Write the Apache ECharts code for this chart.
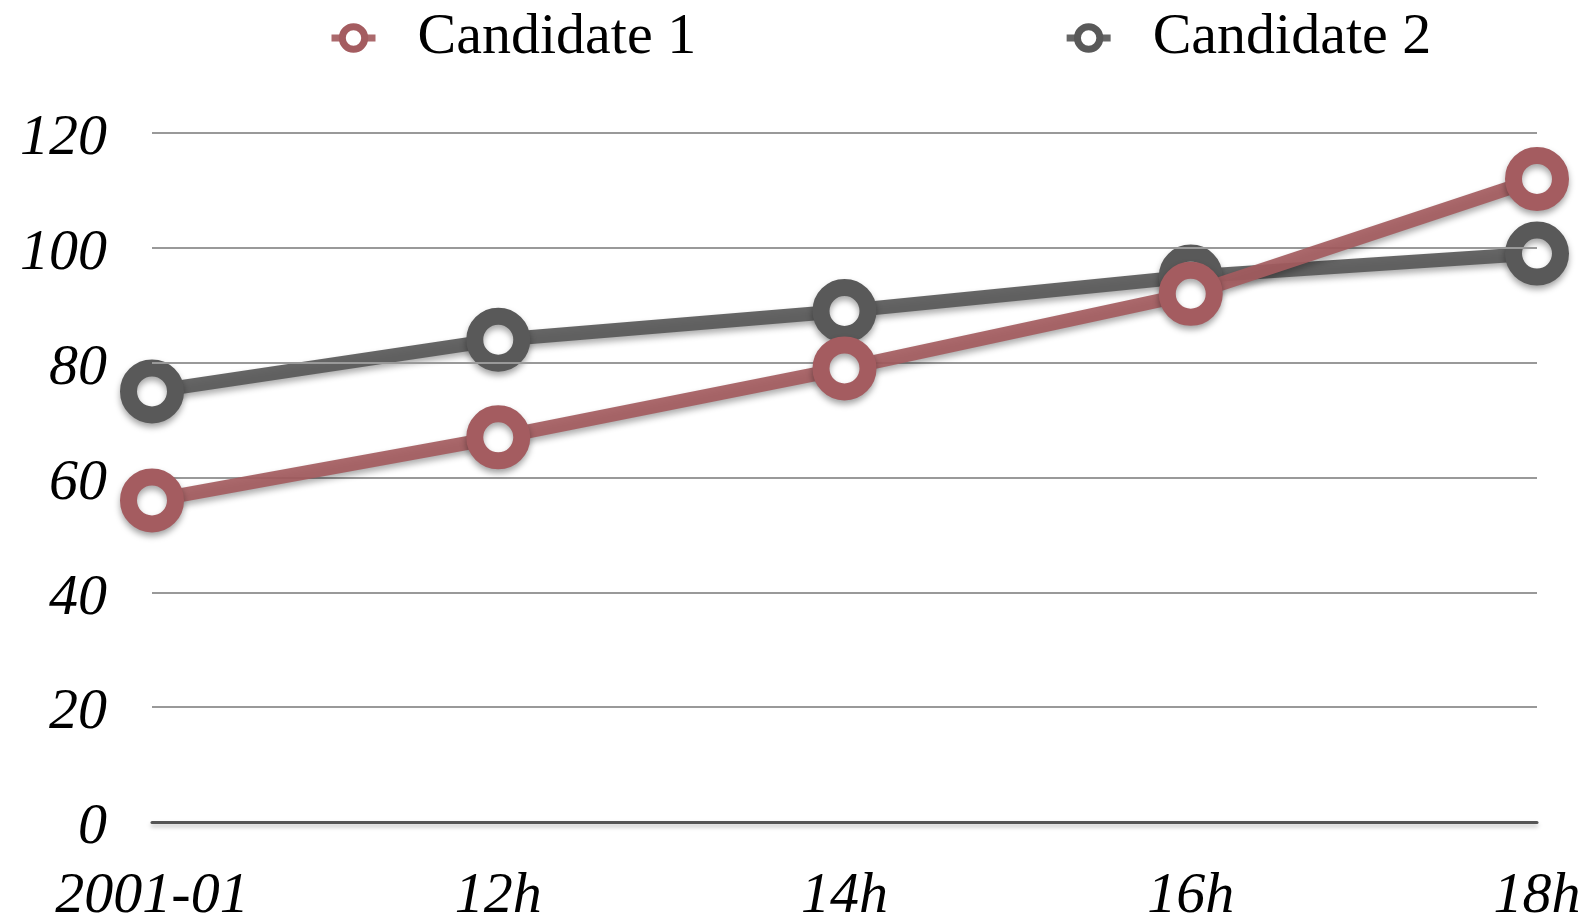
<!DOCTYPE html>
<html>
<head>
<meta charset="utf-8">
<title>Candidate 1 vs Candidate 2</title>
<script src="https://cdn.jsdelivr.net/npm/echarts@6/dist/echarts.min.js"></script>
<style>
  html, body { margin: 0; padding: 0; background: #ffffff; }
  #chart { width: 1591px; height: 916px; }
</style>
</head>
<body>
<div id="chart"></div>
<script>
// Time slots along the x axis
const categories = ['2001-01', '12h', '14h', '16h', '18h'];

// Series values
const candidate1 = [56, 67, 79, 92, 112];
const candidate2 = [75, 84, 89, 95, 99];

// Value axis range
const yMin = 0;
const yMax = 120;
const yStep = 20;

const RED = '#a45c60';
const GREY = '#595959';
const SERIF = '"Liberation Serif", "Times New Roman", serif';

const shadow = {
  shadowColor: 'rgba(0,0,0,0.35)',
  shadowBlur: 6,
  shadowOffsetY: 4
};

// Thick line with ring-shaped markers (white centre, wide coloured border)
function lineSeries(name, values, color, z) {
  return {
    name: name,
    type: 'line',
    data: values,
    z: z,
    symbol: 'circle',
    symbolSize: 47,
    showSymbol: true,
    itemStyle: Object.assign({ color: '#ffffff', borderColor: color, borderWidth: 17 }, shadow),
    lineStyle: Object.assign({ color: color, width: 14, opacity: 0.92 }, shadow),
    emphasis: { disabled: true },
    animation: false
  };
}

const chart = echarts.init(document.getElementById('chart'), null, { renderer: 'canvas' });

chart.setOption({
  backgroundColor: '#ffffff',
  animation: false,
  legend: {
    data: ['Candidate 1', 'Candidate 2'],
    left: 323,
    top: 4,
    itemWidth: 44,
    itemHeight: 28,
    itemGap: 367,
    lineStyle: { width: 7 },
    itemStyle: { borderWidth: 7, shadowBlur: 0, shadowOffsetY: 0 },
    textStyle: {
      fontFamily: SERIF,
      fontSize: 58,
      color: '#000000',
      padding: [0, 0, 10, 37]
    }
  },
  grid: {
    left: 152,
    right: 54,
    top: 133,
    bottom: 94,
    containLabel: false,
    outerBoundsMode: 'none'
  },
  xAxis: {
    type: 'category',
    data: categories,
    boundaryGap: false,
    z: 1,
    axisTick: { show: false },
    axisLine: {
      show: true,
      lineStyle: { color: '#555555', width: 3, shadowColor: 'rgba(0,0,0,0.25)', shadowBlur: 4, shadowOffsetY: 3 }
    },
    axisLabel: {
      margin: 46,
      fontFamily: SERIF,
      fontStyle: 'italic',
      fontSize: 58,
      color: '#000000'
    },
    splitLine: { show: false }
  },
  yAxis: {
    type: 'value',
    min: yMin,
    max: yMax,
    interval: yStep,
    z: 1,
    axisLine: { show: false },
    axisTick: { show: false },
    axisLabel: {
      margin: 45,
      verticalAlign: 'top',
      lineHeight: 12,
      fontFamily: SERIF,
      fontStyle: 'italic',
      fontSize: 58,
      color: '#000000'
    },
    splitLine: {
      show: true,
      lineStyle: { color: '#999999', width: 2 }
    }
  },
  series: [
    lineSeries('Candidate 2', candidate2, GREY, 0),
    lineSeries('Candidate 1', candidate1, RED, 3)
  ]
});
</script>
</body>
</html>
